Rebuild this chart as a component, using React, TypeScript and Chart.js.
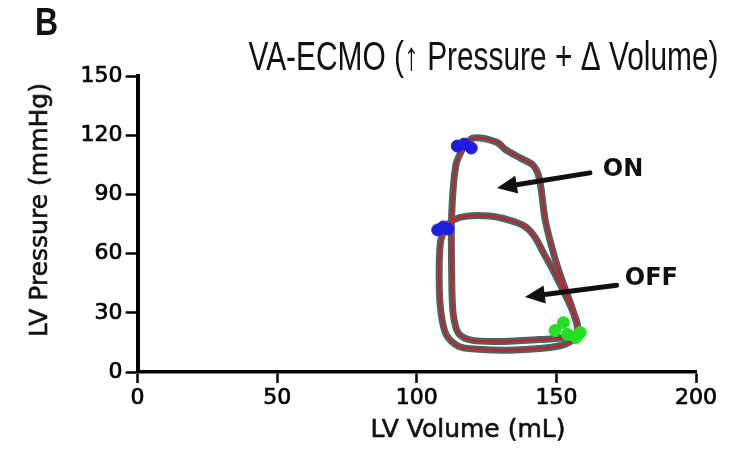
import React, { useEffect, useRef } from 'react';
import { Chart, registerables } from 'chart.js';

Chart.register(...registerables);

// ---- Data ----
const xTickValues = [0, 50, 100, 150, 200];
const yTickValues = [0, 30, 60, 90, 120, 150];

// VA-ECMO ON loop (LV volume mL, LV pressure mmHg)
const onVolume = [116.5, 120, 128.5, 132, 137, 141.5, 143.5, 144.5, 146, 149, 152, 155.5, 157.5, 157, 153, 145, 131, 120, 115, 113, 112.5, 112.5, 114, 116.5];
const onPressure = [113.5, 118.5, 116.5, 112.5, 108.5, 105, 100, 93, 77, 60, 46.5, 33, 23, 19, 17.5, 16.5, 15.5, 16, 19.5, 30, 50, 80, 105, 113.5];

// VA-ECMO OFF loop
const offVolume = [110, 113, 118, 126, 133, 138.5, 142, 145.5, 149, 152.5, 155.5, 157.5, 157, 153, 145, 133, 122, 115, 110.5, 108.5, 108, 108.5, 110];
const offPressure = [73, 77, 79, 79, 77, 74, 69, 60, 51, 41, 32, 24, 18, 14, 12, 11, 11.5, 13, 19, 32, 50, 66, 73];

// End-systolic (blue) and end-diastolic (green) markers
const esVolume = [114.5, 117, 119.5, 107.5, 109.5, 111];
const esPressure = [114.5, 115.5, 113.5, 72, 73.5, 72.5];
const edVolume = [149.5, 152.5, 154, 157, 158.5];
const edPressure = [21, 25, 19, 17.5, 20];

// Annotations
const noteText = ['ON', 'OFF'];
const noteVolume = [166.6, 174.5];
const notePressure = [102.4, 47];
const arrowFromVolume = [162, 171.6];
const arrowFromPressure = [100.9, 44];
const arrowToVolume = [128.7, 138.7];
const arrowToPressure = [93.3, 38];

const panelLetter = 'B';
const chartTitle = 'VA-ECMO (\u2191 Pressure + \u0394 Volume)';
const xTitle = 'LV Volume (mL)';
const yTitle = 'LV Pressure (mmHg)';

const pts = (xs: number[], ys: number[]) => xs.map((v, i) => ({ x: v, y: ys[i] }));

function fitText(ctx: CanvasRenderingContext2D, text: string, cx: number, baseline: number, width: number) {
  const m = ctx.measureText(text).width;
  ctx.save();
  ctx.translate(cx, baseline);
  ctx.scale(width / m, 1);
  ctx.textAlign = 'center';
  ctx.textBaseline = 'alphabetic';
  ctx.fillText(text, 0, 0);
  ctx.restore();
}

function heavyText(ctx: CanvasRenderingContext2D, text: string, x: number, y: number) {
  ctx.fillText(text, x, y);
  ctx.lineWidth = 0.6;
  ctx.strokeText(text, x, y);
}

const annotPlugin = {
  id: 'annot',
  afterDatasetsDraw(chart: any) {
    const { ctx } = chart;
    const xs = chart.scales.x;
    const ys = chart.scales.y;
    ctx.save();
    // arrows
    for (let i = 0; i < arrowFromVolume.length; i++) {
      const x1 = xs.getPixelForValue(arrowFromVolume[i]);
      const y1 = ys.getPixelForValue(arrowFromPressure[i]);
      const x2 = xs.getPixelForValue(arrowToVolume[i]);
      const y2 = ys.getPixelForValue(arrowToPressure[i]);
      const a = Math.atan2(y2 - y1, x2 - x1);
      const hl = 20, hw = 9;
      const bx = x2 - hl * Math.cos(a);
      const by = y2 - hl * Math.sin(a);
      ctx.strokeStyle = '#111';
      ctx.fillStyle = '#111';
      ctx.lineWidth = 5;
      ctx.lineCap = 'round';
      ctx.beginPath();
      ctx.moveTo(x1, y1);
      ctx.lineTo(bx, by);
      ctx.stroke();
      ctx.beginPath();
      ctx.moveTo(x2, y2);
      ctx.lineTo(bx - hw * Math.sin(a), by + hw * Math.cos(a));
      ctx.lineTo(bx + hw * Math.sin(a), by - hw * Math.cos(a));
      ctx.closePath();
      ctx.fill();
    }
    // ON / OFF labels
    ctx.font = 'bold 24px "DejaVu Sans", sans-serif';
    ctx.textAlign = 'left';
    ctx.textBaseline = 'middle';
    for (let i = 0; i < noteText.length; i++) {
      ctx.fillText(noteText[i], xs.getPixelForValue(noteVolume[i]), ys.getPixelForValue(notePressure[i]));
    }
    ctx.restore();
  },
  afterDraw(chart: any) {
    const { ctx } = chart;
    ctx.save();
    ctx.fillStyle = '#111';
    ctx.strokeStyle = '#111';
    // panel letter
    ctx.font = 'bold 39px "Liberation Sans", Arial, sans-serif';
    ctx.save();
    ctx.translate(35, 35);
    ctx.scale(0.82, 1);
    ctx.textAlign = 'left';
    ctx.textBaseline = 'alphabetic';
    ctx.fillText(panelLetter, 0, 0);
    ctx.restore();
    // title
    ctx.font = '40px "Liberation Sans", Arial, sans-serif';
    fitText(ctx, chartTitle, 483.5, 70, 470);
    // axis titles
    ctx.font = '25px "DejaVu Sans", sans-serif';
    ctx.textAlign = 'center';
    ctx.textBaseline = 'alphabetic';
    heavyText(ctx, xTitle, 468, 437);
    ctx.save();
    ctx.translate(47, 210);
    ctx.rotate(-Math.PI / 2);
    heavyText(ctx, yTitle, 0, 0);
    ctx.restore();
    ctx.restore();
  },
};

export default function App() {
  const ref = useRef<HTMLCanvasElement>(null);
  useEffect(() => {
    if (!ref.current) return;
    const loopGray = '#456864';
    const loopRed = '#c4232b';
    const tickFont = { family: '"DejaVu Sans", sans-serif', size: 22 };
    const chart = new Chart(ref.current, {
      type: 'scatter',
      data: {
        datasets: [
          { label: 'ES', data: pts(esVolume, esPressure), backgroundColor: '#1e1ee0', borderColor: '#1e1ee0', pointRadius: 6, showLine: false, order: 0 } as any,
          { label: 'ED', data: pts(edVolume, edPressure), backgroundColor: '#22e022', borderColor: '#22e022', pointRadius: 6, showLine: false, order: 0 } as any,
          { label: 'ON red', data: pts(onVolume, onPressure), borderColor: loopRed, borderWidth: 2.5, showLine: true, pointRadius: 0, tension: 0.3, order: 1 } as any,
          { label: 'OFF red', data: pts(offVolume, offPressure), borderColor: loopRed, borderWidth: 2.5, showLine: true, pointRadius: 0, tension: 0.3, order: 1 } as any,
          { label: 'ON', data: pts(onVolume, onPressure), borderColor: loopGray, borderWidth: 7, showLine: true, pointRadius: 0, tension: 0.3, order: 2 } as any,
          { label: 'OFF', data: pts(offVolume, offPressure), borderColor: loopGray, borderWidth: 7, showLine: true, pointRadius: 0, tension: 0.3, order: 2 } as any,
        ],
      },
      options: {
        responsive: false,
        animation: false,
        events: [],
        layout: { padding: { top: 76, right: 52, left: 0, bottom: 0 } },
        plugins: { legend: { display: false }, tooltip: { enabled: false }, title: { display: false } },
        scales: {
          x: {
            type: 'linear',
            min: 0,
            max: 200,
            afterBuildTicks: (s: any) => { s.ticks = xTickValues.map((v) => ({ value: v })); },
            afterFit: (s: any) => { s.height = 79; },
            ticks: { font: tickFont, color: '#000', textStrokeColor: '#000', textStrokeWidth: 0.7, padding: 2, maxRotation: 0, autoSkip: false },
            grid: { drawOnChartArea: false, drawTicks: true, tickLength: 11, tickWidth: 2.5, tickColor: '#000' },
            border: { display: true, width: 3.5, color: '#000' },
          },
          y: {
            type: 'linear',
            min: 0,
            max: 150,
            afterBuildTicks: (s: any) => { s.ticks = yTickValues.map((v) => ({ value: v })); },
            afterFit: (s: any) => { s.width = 137.6; },
            ticks: { font: tickFont, color: '#000', textStrokeColor: '#000', textStrokeWidth: 0.7, padding: 3, autoSkip: false },
            grid: { drawOnChartArea: false, drawTicks: true, tickLength: 12, tickWidth: 2.5, tickColor: '#000' },
            border: { display: true, width: 4, color: '#000' },
          },
        },
      } as any,
      plugins: [annotPlugin],
    });
    return () => chart.destroy();
  }, []);
  return (
    <div style={{ position: 'fixed', left: 0, top: 0, width: 748, height: 451, background: '#fff' }}>
      <canvas ref={ref} width={748} height={451} style={{ width: 748, height: 451, display: 'block' }} />
    </div>
  );
}
